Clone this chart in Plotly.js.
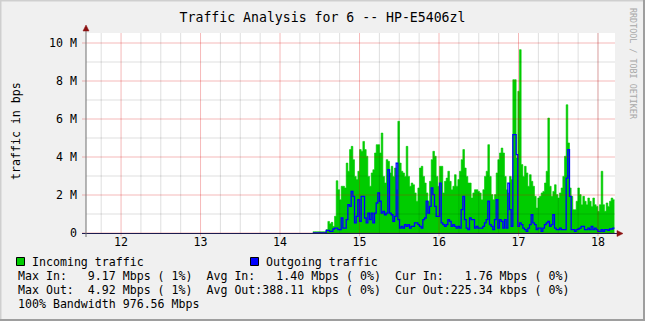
<!DOCTYPE html>
<html>
<head>
<meta charset="utf-8">
<script src="https://cdn.plot.ly/plotly-3.0.1.min.js"></script>
<style>
html,body{margin:0;padding:0;background:#f0f0f0;}
#chart{width:645px;height:321px;}
</style>
</head>
<body>
<div id="chart"></div>
<script>
// ---- data (values in Mbit/s), sampled at a regular interval ----
const sampleStart = 14.413;      // hour of day of first sample
const sampleStep = 0.020964;     // hours between samples
const incoming = [
0.07,0.07,0.07,0.07,0.07,0.07,0.07,0.07,
0.18,0.61,0.49,0.56,0.35,0.88,2.75,2.28,1.75,2.46,2.46,2.37,3.68,3.25,4.39,4.56,3.86,2.98,2.81,3.25,
4.39,4.30,4.82,4.39,4.04,2.98,2.46,3.16,3.33,4.21,4.65,4.65,4.21,5.26,2.98,2.63,3.86,3.77,3.16,3.51,
2.98,3.42,2.28,5.88,3.68,3.25,3.16,2.98,4.56,2.98,2.46,2.63,2.54,2.11,1.67,2.37,3.42,3.51,2.98,2.63,
2.11,1.67,2.72,3.86,4.30,4.04,2.98,2.46,3.51,3.51,2.11,2.72,2.89,3.25,2.72,2.28,2.46,3.07,2.46,2.81,
3.25,3.86,4.39,3.42,2.98,2.63,2.63,1.84,2.11,2.28,2.28,2.19,2.11,1.75,2.28,2.98,3.25,4.65,2.98,2.02,
1.75,2.02,3.16,3.86,4.21,4.47,4.21,2.98,2.28,2.11,2.98,2.81,8.07,8.07,3.95,7.46,9.65,3.60,2.98,3.51,
3.16,2.46,3.07,2.72,2.46,1.93,1.32,1.84,1.93,2.11,2.19,2.63,3.25,6.05,2.46,1.93,2.19,2.54,2.02,1.84,
2.11,2.37,2.98,4.04,6.75,4.74,2.37,1.93,1.23,1.23,1.67,2.37,2.02,1.49,1.93,1.67,1.49,1.84,1.67,1.40,
1.84,1.49,1.40,1.14,1.49,3.25,1.49,1.14,1.58,1.40,1.67,1.84,1.75
];
const outgoing = [
0,0,0,0,0,0,0,0,
0.14,0.14,0.09,0.09,0.21,0.26,0.26,0.18,0.18,0.79,0.26,0.26,0.70,1.49,1.40,2.19,1.93,0.53,0.88,1.75,
0.61,1.93,1.93,0.79,0.53,1.05,0.70,1.05,0.53,1.05,1.58,2.11,1.67,1.05,1.14,0.96,1.05,3.33,1.05,0.96,
0.61,0.88,3.68,0.70,0.26,0.35,0.26,0.44,0.35,0.44,0.26,0.35,0.35,0.53,0.53,0.44,0.35,0.26,0.70,0.79,
1.67,1.05,1.40,2.37,2.02,1.40,0.88,0.88,2.63,0.53,0.44,0.35,0.44,0.70,0.61,0.35,0.44,0.35,0.26,0.35,
0.26,1.23,1.93,0.70,0.26,0.18,0.79,0.70,0.70,0.26,0.35,0.26,0.26,0.26,0.35,0.53,0.70,1.67,0.44,0.35,
0.18,0.70,1.75,0.26,0.70,0.61,0.26,0.70,0.26,2.63,1.23,0.35,5.18,5.18,4.12,0.35,0.53,0.44,0.26,0.18,
0.09,0.26,0.44,0.96,0.53,0.44,0.18,0.26,0.26,0.09,0.26,0.44,0.53,0.61,0.35,0.44,0.96,0.26,0.18,0.18,
0.26,0.18,0.18,0.18,2.89,4.39,1.93,0.18,0.18,0.09,0.18,0.21,0.26,0.35,0.35,0.18,0.18,0.26,0.18,0.35,
0.18,0.26,0.18,0.09,0.09,0.18,0.09,0.18,0.18,0.14,0.21,0.21,0.26
];
const xTickVals = [12,13,14,15,16,17,18];
const xTickText = ['12','13','14','15','16','17','18'];
const yTickVals = [0,2,4,6,8,10];
const yTickText = ['0','2 M','4 M','6 M','8 M','10 M'];
const xMinorVals = [11.75,12.25,12.5,12.75,13.25,13.5,13.75,14.25,14.5,14.75,15.25,15.5,15.75,16.25,16.5,16.75,17.25,17.5,17.75,18.0];
const yMinorVals = [1,3,5,7,9];
const titleText = 'Traffic Analysis for 6 -- HP-E5406zl';
const legendRows = [
  'Max In:   9.17 Mbps ( 1%)  Avg In:   1.40 Mbps ( 0%)  Cur In:   1.76 Mbps ( 0%)',
  'Max Out:  4.92 Mbps ( 1%)  Avg Out:388.11 kbps ( 0%)  Cur Out:225.34 kbps ( 0%)',
  '100% Bandwidth 976.56 Mbps'
];

// ---- build traces ----
const times = incoming.map((_, i) => sampleStart + i * sampleStep);
times.push(sampleStart + incoming.length * sampleStep);
const inY = incoming.concat([incoming[incoming.length - 1]]);
const outY = outgoing.concat([outgoing[outgoing.length - 1]]);

const W = 645, H = 321;
const L = 86, R = 615, T = 33, B = 233;
const px = x => (x - L) / (R - L);
const py = y => (B - y) / (B - T);
const nb = s => s.replace(/ /g, '\u00a0');
const mono = '"DejaVu Sans Mono", monospace';

const traces = [
  {x: times, y: inY, type: 'scatter', mode: 'lines', line: {shape: 'hv', width: 0.6, color: '#00cc00'},
   fill: 'tozeroy', fillcolor: '#00cc00', hoverinfo: 'skip'},
  {x: times, y: outY, type: 'scatter', mode: 'lines', line: {shape: 'hv', width: 1.3, color: '#0000ff'},
   hoverinfo: 'skip'}
];

const shapes = [];
xMinorVals.forEach(v => shapes.push({type: 'line', xref: 'x', yref: 'paper', x0: v, x1: v, y0: 0, y1: 1,
  line: {color: 'rgba(0,0,0,0.13)', width: 1}, layer: 'above'}));
yMinorVals.forEach(v => shapes.push({type: 'line', xref: 'paper', yref: 'y', x0: 0, x1: 1, y0: v, y1: v,
  line: {color: 'rgba(0,0,0,0.13)', width: 1}, layer: 'above'}));
xTickVals.forEach(v => shapes.push({type: 'line', xref: 'x', yref: 'paper', x0: v, x1: v, y0: py(236), y1: 1,
  line: {color: 'rgba(220,0,0,0.28)', width: 1}, layer: 'above'}));
yTickVals.forEach(v => shapes.push({type: 'line', xref: 'paper', yref: 'y', x0: px(82), x1: 1, y0: v, y1: v,
  line: {color: 'rgba(220,0,0,0.28)', width: 1}, layer: 'above'}));
// axes
shapes.push({type: 'line', xref: 'paper', yref: 'paper', x0: px(82), x1: px(618), y0: py(233.5), y1: py(233.5),
  line: {color: '#1c1c50', width: 1.2}, layer: 'above'});
shapes.push({type: 'line', xref: 'paper', yref: 'paper', x0: px(86), x1: px(86), y0: py(237), y1: py(30),
  line: {color: '#707070', width: 1}, layer: 'above'});
// arrows
shapes.push({type: 'path', xref: 'paper', yref: 'paper',
  path: `M ${px(83)} ${py(31)} L ${px(89)} ${py(31)} L ${px(86)} ${py(25)} Z`,
  fillcolor: '#8b1010', line: {color: '#8b1010', width: 0.5}, layer: 'above'});
shapes.push({type: 'path', xref: 'paper', yref: 'paper',
  path: `M ${px(617)} ${py(230.5)} L ${px(617)} ${py(236.5)} L ${px(623)} ${py(233.5)} Z`,
  fillcolor: '#8b1010', line: {color: '#8b1010', width: 0.5}, layer: 'above'});
// legend squares
shapes.push({type: 'rect', xref: 'paper', yref: 'paper', x0: px(16.5), x1: px(24.5), y0: py(265.5), y1: py(257.5),
  fillcolor: '#00cc00', line: {color: '#000', width: 1}});
shapes.push({type: 'rect', xref: 'paper', yref: 'paper', x0: px(250.5), x1: px(258.5), y0: py(265.5), y1: py(257.5),
  fillcolor: '#0000ff', line: {color: '#000', width: 1}});
// 3D frame
shapes.push({type: 'line', xref: 'paper', yref: 'paper', x0: px(0.5), x1: px(0.5), y0: py(0), y1: py(321),
  line: {color: '#cfcfcf', width: 2}});
shapes.push({type: 'line', xref: 'paper', yref: 'paper', x0: px(0), x1: px(645), y0: py(0.5), y1: py(0.5),
  line: {color: '#cfcfcf', width: 2}});
shapes.push({type: 'line', xref: 'paper', yref: 'paper', x0: px(644), x1: px(644), y0: py(0), y1: py(321),
  line: {color: '#9e9e9e', width: 2}});
shapes.push({type: 'line', xref: 'paper', yref: 'paper', x0: px(0), x1: px(645), y0: py(320), y1: py(320),
  line: {color: '#9e9e9e', width: 2}});

const annotations = [
  {text: 'traffic in bps', xref: 'paper', yref: 'paper', x: px(16), y: py(131), textangle: -90,
   showarrow: false, font: {family: mono, size: 11.6, color: '#000'}, xanchor: 'center', yanchor: 'middle'},
  {text: nb('RRDTOOL / TOBI OETIKER'), xref: 'paper', yref: 'paper', x: px(633), y: py(64), textangle: 90,
   showarrow: false, font: {family: mono, size: 8.4, color: '#a8a8a8'}, xanchor: 'center', yanchor: 'middle'},
  {text: nb('Incoming traffic'), xref: 'paper', yref: 'paper', x: px(30), y: py(261.5),
   showarrow: false, font: {family: mono, size: 11.6, color: '#000'}, xanchor: 'left', yanchor: 'middle'},
  {text: nb('Outgoing traffic'), xref: 'paper', yref: 'paper', x: px(263.5), y: py(261.5),
   showarrow: false, font: {family: mono, size: 11.6, color: '#000'}, xanchor: 'left', yanchor: 'middle'}
];
legendRows.forEach((row, i) => annotations.push({text: nb(row), xref: 'paper', yref: 'paper',
  x: px(15.5), y: py(275.5 + i * 14.1), showarrow: false,
  font: {family: mono, size: 11.6, color: '#000'}, xanchor: 'left', yanchor: 'middle'}));

const layout = {
  width: W, height: H,
  margin: {l: L, r: W - R, t: T, b: H - B, pad: 0},
  paper_bgcolor: '#f0f0f0', plot_bgcolor: '#ffffff',
  showlegend: false,
  title: {text: titleText, x: 0.5, xref: 'container', xanchor: 'center', y: 1 - 17 / H, yref: 'container', yanchor: 'middle',
    font: {family: mono, size: 13.2, color: '#000'}},
  xaxis: {range: [11.559, 18.214], tickvals: xTickVals, ticktext: xTickText, showgrid: false, zeroline: false,
    showline: false, ticks: '', tickfont: {family: mono, size: 11.6, color: '#000'}, fixedrange: true},
  yaxis: {range: [0, 200 / 19], tickvals: yTickVals, ticktext: yTickText, showgrid: false, zeroline: false,
    showline: false, ticks: '', ticklabelstandoff: 8, tickfont: {family: mono, size: 11.6, color: '#000'}, fixedrange: true},
  shapes: shapes,
  annotations: annotations
};

Plotly.newPlot('chart', traces, layout, {displayModeBar: false, staticPlot: true});
</script>
</body>
</html>
